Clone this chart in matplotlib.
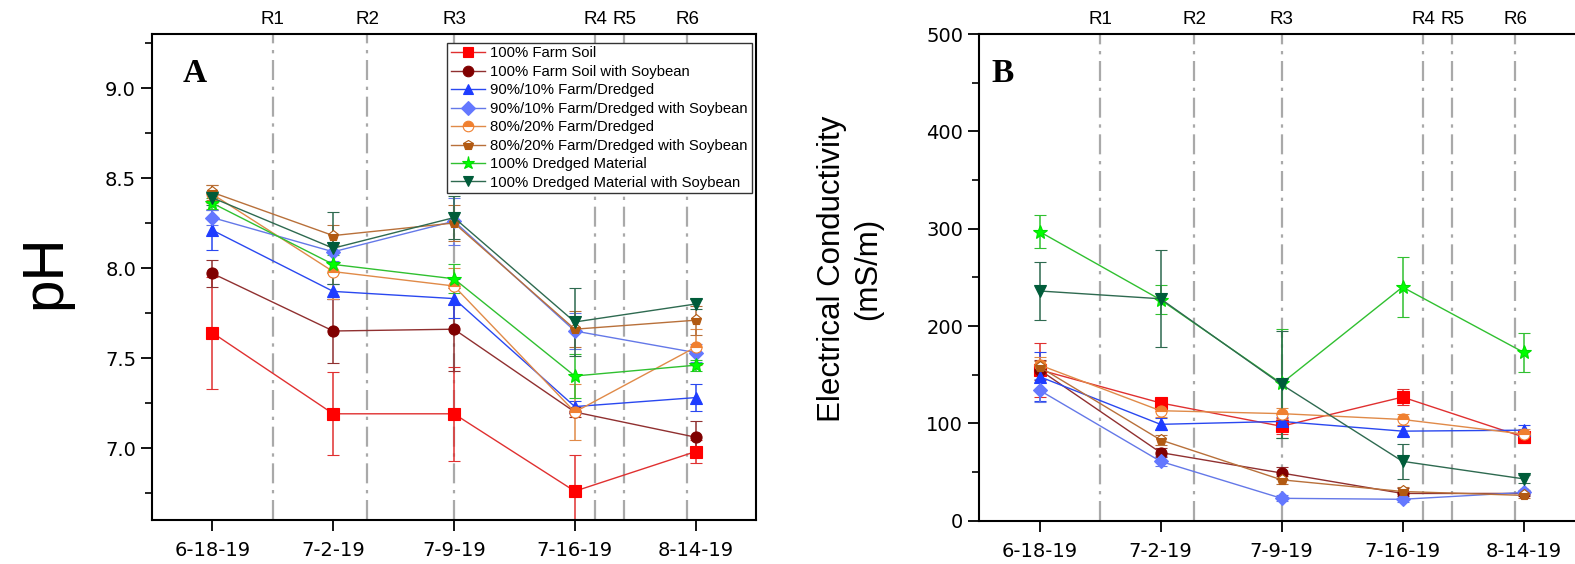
import matplotlib
matplotlib.use("Agg")
import matplotlib.pyplot as plt
from matplotlib.ticker import MultipleLocator
from matplotlib.lines import Line2D
import matplotlib.transforms as mtransforms

plt.rcParams['font.family'] = ['Liberation Sans', 'DejaVu Sans']

dates = ["6-18-19", "7-2-19", "7-9-19", "7-16-19", "8-14-19"]
stage_labels = ["R1", "R2", "R3", "R4", "R5", "R6"]
stage_pos = [0.50, 1.28, 2.00, 3.17, 3.41, 3.93]

series_names = [
    "100% Farm Soil",
    "100% Farm Soil with Soybean",
    "90%/10% Farm/Dredged",
    "90%/10% Farm/Dredged with Soybean",
    "80%/20% Farm/Dredged",
    "80%/20% Farm/Dredged with Soybean",
    "100% Dredged Material",
    "100% Dredged Material with Soybean",
]

# pH means and errors
ph_farm = [7.64, 7.19, 7.19, 6.76, 6.98]
ph_farm_soy = [7.97, 7.65, 7.66, 7.20, 7.06]
ph_90 = [8.21, 7.87, 7.83, 7.23, 7.28]
ph_90_soy = [8.28, 8.09, 8.26, 7.65, 7.53]
ph_80 = [8.41, 7.98, 7.90, 7.20, 7.56]
ph_80_soy = [8.42, 8.18, 8.25, 7.66, 7.71]
ph_dm = [8.36, 8.02, 7.94, 7.40, 7.46]
ph_dm_soy = [8.39, 8.11, 8.28, 7.70, 7.80]

ph_farm_err = [0.31, 0.23, 0.26, 0.20, 0.065]
ph_farm_soy_err = [0.075, 0.18, 0.23, 0.03, 0.09]
ph_90_err = [0.11, 0.04, 0.11, 0.03, 0.075]
ph_90_soy_err = [0.04, 0.05, 0.13, 0.10, 0.05]
ph_80_err = [0.05, 0.15, 0.10, 0.155, 0.10]
ph_80_soy_err = [0.04, 0.06, 0.10, 0.10, 0.08]
ph_dm_err = [0.03, 0.05, 0.08, 0.12, 0.03]
ph_dm_soy_err = [0.04, 0.20, 0.12, 0.19, 0.03]

# Electrical conductivity means and errors (mS/m)
ec_farm = [155, 121, 97, 127, 86]
ec_farm_soy = [155, 70, 49, 28, 28]
ec_90 = [148, 99, 102, 92, 93]
ec_90_soy = [134, 61, 23, 22, 29]
ec_80 = [160, 113, 110, 104, 89]
ec_80_soy = [158, 83, 42, 30, 26]
ec_dm = [297, 227, 141, 240, 173]
ec_dm_soy = [236, 228, 140, 61, 43]

ec_farm_err = [28, 5, 8, 8, 6]
ec_farm_soy_err = [10, 5, 6, 6, 3]
ec_90_err = [25, 6, 5, 5, 5]
ec_90_soy_err = [12, 5, 3, 3, 3]
ec_80_err = [8, 6, 6, 6, 5]
ec_80_soy_err = [6, 5, 4, 5, 3]
ec_dm_err = [17, 15, 56, 31, 20]
ec_dm_soy_err = [30, 50, 55, 18, 4]

ph_data = [ph_farm, ph_farm_soy, ph_90, ph_90_soy, ph_80, ph_80_soy, ph_dm, ph_dm_soy]
ph_errs = [ph_farm_err, ph_farm_soy_err, ph_90_err, ph_90_soy_err, ph_80_err,
           ph_80_soy_err, ph_dm_err, ph_dm_soy_err]
ec_data = [ec_farm, ec_farm_soy, ec_90, ec_90_soy, ec_80, ec_80_soy, ec_dm, ec_dm_soy]
ec_errs = [ec_farm_err, ec_farm_soy_err, ec_90_err, ec_90_soy_err, ec_80_err,
           ec_80_soy_err, ec_dm_err, ec_dm_soy_err]

styles = [
    dict(marker='s', color='#FF0000', lc='#E03030', mfc='#FF0000', fs='full'),
    dict(marker='o', color='#800000', lc='#903030', mfc='#800000', fs='full'),
    dict(marker='^', color='#1E3CFF', lc='#2A48F0', mfc='#1E3CFF', fs='full'),
    dict(marker='D', color='#6478FF', lc='#6478E8', mfc='#6478FF', fs='full', ms=7),
    dict(marker='o', color='#F08030', lc='#E08A48', mfc='#F08030', fs='top'),
    dict(marker='p', color='#B25A12', lc='#B8703A', mfc='#B25A12', fs='bottom'),
    dict(marker='*', color='#00E000', lc='#30C030', mfc='#00FF00', fs='full', ms=10),
    dict(marker='v', color='#005C3A', lc='#2E6A50', mfc='#005C3A', fs='full'),
]

TICK_FONT = ['DejaVu Sans']

fig = plt.figure(figsize=(15.75, 5.64), dpi=100)
W, H = 1575.0, 564.0
axA = fig.add_axes([152 / W, (H - 520) / H, 604 / W, 486 / H])
axB = fig.add_axes([979 / W, (H - 520.7) / H, 605 / W, 486.7 / H])

x = list(range(len(dates)))


def draw(ax, data, errs):
    for name, y, e, st in zip(series_names, data, errs, styles):
        ms = st.get('ms', 8)
        ax.errorbar(x, y, yerr=e, color=st['lc'], ecolor=st['lc'], elinewidth=1.1,
                    capsize=4, capthick=1.1, linewidth=1.0, marker=st['marker'],
                    markersize=ms, markerfacecolor=st['mfc'],
                    markeredgecolor=st['color'], markeredgewidth=0.8,
                    fillstyle=st['fs'], markerfacecoloralt='white', label=name)
    for p in stage_pos:
        ax.axvline(p, color='#A9A9A9', linewidth=1.6, linestyle=(0, (9, 3, 1.5, 3)), zorder=0)
    trans = mtransforms.blended_transform_factory(ax.transData, ax.transAxes)
    for lab, p in zip(stage_labels, stage_pos):
        ax.text(p, 1.012, lab, transform=trans, ha='center', va='bottom', fontsize=13.5)
    ax.set_xlim(-0.5, 4.5)
    ax.set_xticks(x)
    ax.set_xticklabels(dates)
    ax.tick_params(axis='both', which='major', direction='out', length=8, width=1.3,
                   labelsize=14, top=False, right=False)
    ax.tick_params(axis='x', which='major', pad=7)
    ax.tick_params(axis='y', which='minor', direction='out', length=5, width=1.2)
    ax.tick_params(axis='x', which='minor', bottom=False)
    for s in ax.spines.values():
        s.set_linewidth(1.5)


def style_ticklabels(ax):
    for lab in ax.get_xticklabels() + ax.get_yticklabels():
        lab.set_fontfamily(TICK_FONT)
        lab.set_fontsize(14)


draw(axA, ph_data, ph_errs)
axA.set_ylim(6.6, 9.3)
axA.yaxis.set_major_locator(MultipleLocator(0.5))
axA.yaxis.set_minor_locator(MultipleLocator(0.25))
axA.yaxis.set_major_formatter(matplotlib.ticker.FormatStrFormatter('%.1f'))
axA.text(0.051, 0.901, "A", transform=axA.transAxes, fontsize=24, fontweight='bold',
         family=['Liberation Serif'], ha='left', va='baseline')

proxies = []
for st in styles:
    proxies.append(Line2D([], [], color=st['lc'], linewidth=1.0, marker=st['marker'],
                          markersize=st.get('ms', 8), markerfacecolor=st['mfc'],
                          markeredgecolor=st['color'], markeredgewidth=0.8,
                          fillstyle=st['fs'], markerfacecoloralt='white'))

leg = axA.legend(handles=proxies, labels=series_names, loc='upper right',
                 bbox_to_anchor=(0.993, 0.982), borderaxespad=0, fontsize=10.7,
                 frameon=True, fancybox=False, edgecolor='#333333', framealpha=1,
                 handlelength=2.3, handletextpad=0.35, labelspacing=0.3,
                 borderpad=0.25, markerscale=0.95)
leg.get_frame().set_linewidth(1.0)

draw(axB, ec_data, ec_errs)
axB.set_ylim(0, 500)
axB.yaxis.set_major_locator(MultipleLocator(100))
axB.yaxis.set_minor_locator(MultipleLocator(50))
axB.text(0.021, 0.901, "B", transform=axB.transAxes, fontsize=24, fontweight='bold',
         family=['Liberation Serif'], ha='left', va='baseline')

style_ticklabels(axA)
style_ticklabels(axB)

fig.text(45 / W, 1 - 272 / H, "pH", rotation=90, ha='center', va='center', fontsize=42)
fig.text(850 / W, 1 - 269 / H, "Electrical Conductivity\n(mS/m)", rotation=90,
         ha='center', va='center', fontsize=22.5, linespacing=1.25)

fig.savefig("out.png", dpi=100)
